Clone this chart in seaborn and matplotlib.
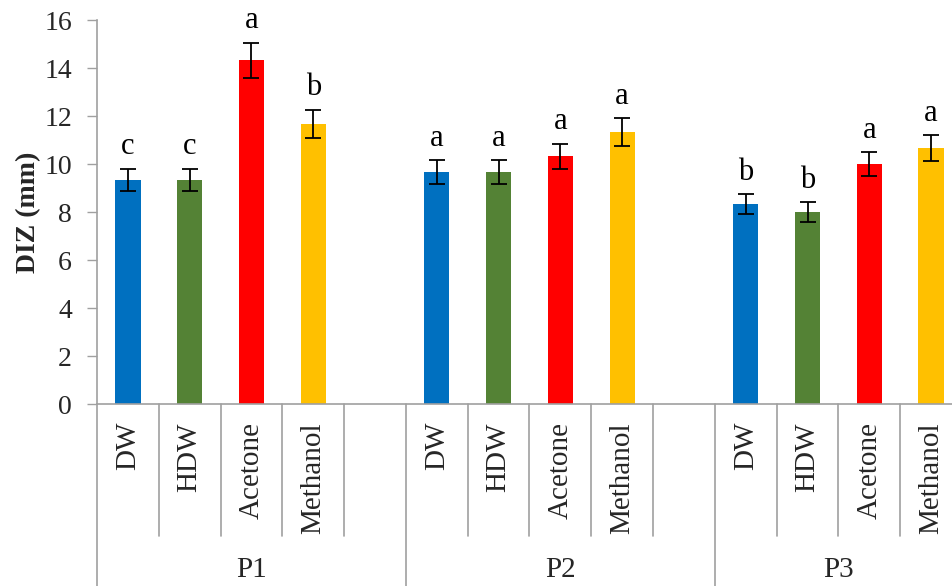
import numpy as np
import pandas as pd
import matplotlib
matplotlib.use("Agg")
import matplotlib.pyplot as plt
import seaborn as sns

# ---- data ----
groups = ["P1", "P2", "P3"]
solvents = ["DW", "HDW", "Acetone", "Methanol"]
p1_values = [9.33, 9.33, 14.33, 11.67]
p2_values = [9.67, 9.67, 10.33, 11.33]
p3_values = [8.33, 8.00, 10.00, 10.67]
p1_errors = [0.47, 0.47, 0.73, 0.60]
p2_errors = [0.50, 0.50, 0.52, 0.58]
p3_errors = [0.42, 0.40, 0.50, 0.54]
p1_letters = ["c", "c", "a", "b"]
p2_letters = ["a", "a", "a", "a"]
p3_letters = ["b", "b", "a", "a"]
solvent_colors = {"DW": "#0070C0", "HDW": "#548235", "Acetone": "#FF0000", "Methanol": "#FFC000"}
y_ticks = [0, 2, 4, 6, 8, 10, 12, 14, 16]

values = [p1_values, p2_values, p3_values]
errors = [p1_errors, p2_errors, p3_errors]
letters = [p1_letters, p2_letters, p3_letters]

rows = []
for g, vals, errs, lets in zip(groups, values, errors, letters):
    for s, v, e, l in zip(solvents, vals, errs, lets):
        rows.append({"group": g, "solvent": s, "slot": f"{g}-{s}", "value": v, "err": e, "letter": l})
df = pd.DataFrame(rows)

# slot order (with an empty slot between groups, as in the Excel chart)
order = []
for i, g in enumerate(groups):
    order += [f"{g}-{s}" for s in solvents]
    if i < len(groups) - 1:
        order.append(f"blank{i}")
palette = {f"{g}-{s}": solvent_colors[s] for g in groups for s in solvents}
palette.update({o: "white" for o in order if o.startswith("blank")})

sns.set_style("white")
plt.rcParams["font.family"] = ["Liberation Serif", "DejaVu Serif"]

W, H = 953, 586
fig = plt.figure(figsize=(W / 100, H / 100), dpi=100)
left_px, right_px, top_px, bottom_px = 97, 962, 20, 404
ax = fig.add_axes([left_px / W, 1 - bottom_px / H, (right_px - left_px) / W, (bottom_px - top_px) / H])

sns.barplot(data=df, x="slot", y="value", hue="slot", order=order, hue_order=order,
            palette=palette, legend=False, width=0.41, errorbar=None, saturation=1,
            linewidth=0, ax=ax)

pos = np.array([order.index(s) for s in df["slot"]])
ax.errorbar(pos, df["value"], yerr=df["err"], fmt="none", ecolor="black",
            elinewidth=1.3, capsize=6, capthick=1.3, zorder=3)
for x, v, e, l in zip(pos, df["value"], df["err"], df["letter"]):
    ax.text(x, v + e + 0.6, l, ha="center", va="baseline", fontsize=22, color="black")

ax.set_xlim(-0.5, len(order) - 0.5)
ax.set_ylim(0, 16)
ax.set_yticks(y_ticks)
ax.set_yticklabels([str(t) for t in y_ticks], fontsize=20)
ax.tick_params(axis="y", length=7, width=1, color="#A0A0A0", direction="out", pad=11, left=True)
ax.tick_params(axis="x", length=0, labelbottom=False)
ax.set_xlabel("")
ax.set_ylabel("DIZ (mm)", fontsize=20, fontweight="bold", labelpad=2)

for side in ["top", "right"]:
    ax.spines[side].set_visible(False)
for side in ["left", "bottom"]:
    ax.spines[side].set_color("#A0A0A0")
    ax.spines[side].set_linewidth(1.2)

trans = ax.get_xaxis_transform()
ax_h = bottom_px - top_px
short_y = -(536 - bottom_px) / ax_h
long_y = -(H - bottom_px) / ax_h
group_starts = [order.index(f"{g}-{solvents[0]}") for g in groups]
group_bounds = [b - 0.5 for b in group_starts]
for i in range(len(order) + 1):
    xb = i - 0.5
    y_end = long_y if xb in group_bounds else short_y
    ax.plot([xb, xb], [0, y_end], color="#A0A0A0", lw=1.2, transform=trans, clip_on=False)

# category labels
for i, s in enumerate(order):
    if s.startswith("blank"):
        continue
    name = s.split("-", 1)[1]
    ax.text(i, -(422 - bottom_px) / ax_h, name, rotation=90, ha="center", va="top",
            fontsize=21, transform=trans)

# group labels
ends = group_bounds[1:] + [len(order) - 0.5]
for g, a, b in zip(groups, group_bounds, ends):
    ax.text((a + b) / 2, -(570 - bottom_px) / ax_h, g, ha="center", va="center",
            fontsize=21, transform=trans)

fig.savefig("out.png", dpi=100)
